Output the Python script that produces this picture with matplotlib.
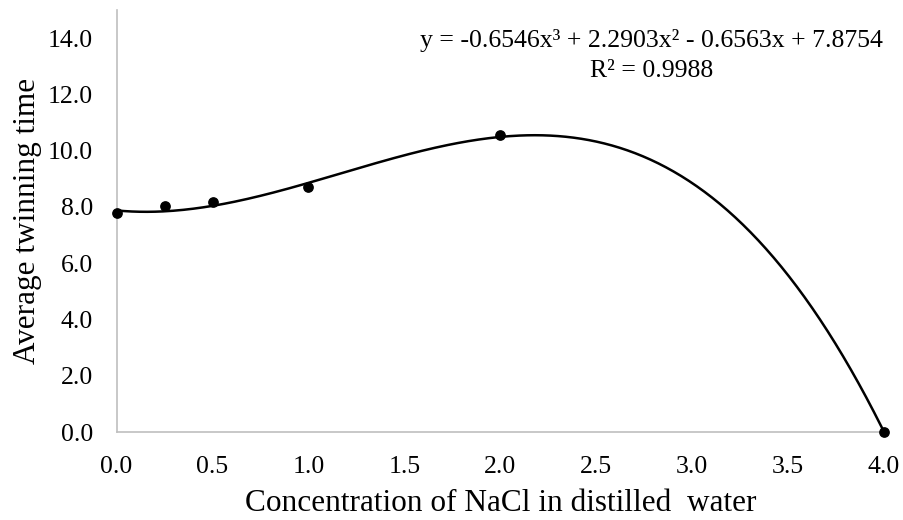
import matplotlib.pyplot as plt
import numpy as np

plt.rcParams['font.family'] = ['Liberation Serif', 'DejaVu Serif']

# data
conc = [0.0, 0.25, 0.5, 1.0, 2.0, 4.0]
twin_time = [7.78, 8.02, 8.17, 8.7, 10.55, 0.0]
# cubic trendline coefficients as printed on the chart
trend_coef = [-0.6546, 2.2903, -0.6563, 7.8754]
x_ticks = [0.0, 0.5, 1.0, 1.5, 2.0, 2.5, 3.0, 3.5, 4.0]
y_ticks = [0.0, 2.0, 4.0, 6.0, 8.0, 10.0, 12.0, 14.0]

fig = plt.figure(figsize=(9.04, 5.2), dpi=100)
ax = fig.add_axes([0.129, 0.169, 0.849, 0.812])

xs = np.linspace(0, 4, 300)
ax.plot(xs, np.polyval(trend_coef, xs), color='black', lw=1.8, zorder=2)
ax.scatter(conc, twin_time, s=45, color='black', zorder=3, clip_on=False)

ax.set_xlim(0, 4)
ax.set_ylim(0, 15)
ax.set_xticks(x_ticks)
ax.set_xticklabels([f'{t:.1f}' for t in x_ticks])
ax.set_yticks(y_ticks)
ax.set_yticklabels([f'{t:.1f}' for t in y_ticks])
ax.tick_params(axis='x', length=0, labelsize=18.5, pad=17)
ax.tick_params(axis='y', length=0, labelsize=18.5, pad=17)
for s in ['top', 'right']:
    ax.spines[s].set_visible(False)
for s in ['left', 'bottom']:
    ax.spines[s].set_color('#bfbfbf')
    ax.spines[s].set_linewidth(1.2)

ax.set_xlabel('Concentration of NaCl in distilled  water', fontsize=22.5, labelpad=8)
ax.set_ylabel('Average twinning time', fontsize=22.5, labelpad=4)

ax.text(0.697, 0.955, 'y = -0.6546x³ + 2.2903x² - 0.6563x + 7.8754\nR² = 0.9988',
        transform=ax.transAxes, ha='center', va='top', fontsize=18.5,
        multialignment='center', linespacing=1.45)

fig.savefig('out.png', dpi=100)
